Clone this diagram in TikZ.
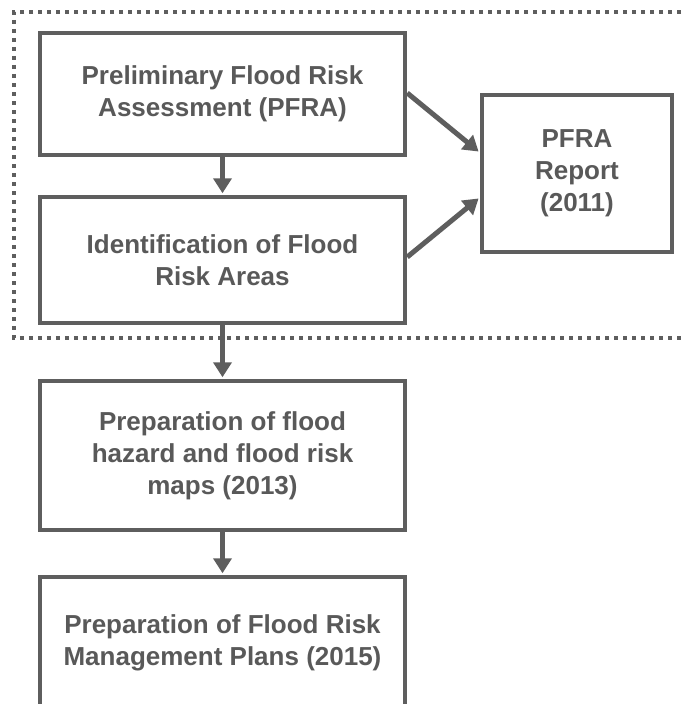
\documentclass[tikz,border=0pt]{standalone}
\usepackage{fontspec}
\setmainfont{Liberation Sans}
\usetikzlibrary{arrows.meta,calc}
\definecolor{linegray}{HTML}{5E5E5E}
\definecolor{textgray}{HTML}{595959}
\begin{document}
\begin{tikzpicture}[x=1pt,y=-1pt,
  box/.style={draw=linegray, line width=4.5pt, fill=white, align=center, text=textgray,
    font=\fontsize{26}{32}\selectfont\bfseries, inner sep=0pt},
  flow/.style={draw=linegray, line width=5pt, -{Triangle[width=18pt,length=15pt]}, shorten >=1.5pt},
  group/.style={draw=linegray, line width=3.5pt, dash pattern=on 4pt off 5pt}]
\useasboundingbox (0,0) rectangle (685,704);
\clip (0,0) rectangle (685,704);
\draw[group] (690,12) -- (14,12) -- (14,338) -- (690,338);
\node[box, minimum width=365pt, minimum height=122pt] (pfra) at (222.5,94) {Preliminary Flood Risk\\Assessment (PFRA)};
\node[box, minimum width=365pt, minimum height=126pt] (ident) at (222.5,260) {Identification of Flood\\Risk Areas};
\node[box, minimum width=190pt, minimum height=157pt] (rep) at (577,173.5) {PFRA\\Report\\(2011)};
\node[box, minimum width=365pt, minimum height=149pt] (maps) at (222.5,455.5) {Preparation of flood\\hazard and flood risk\\maps (2013)};
\node[box, minimum width=365pt, minimum height=132pt] (plans) at (222.5,643) {Preparation of Flood Risk\\Management Plans (2015)};
\draw[flow] (pfra.south) -- (ident.north);
\draw[flow] (ident.south) -- (maps.north);
\draw[flow] (maps.south) -- (plans.north);
\draw[flow] ([yshift=1pt]pfra.east) -- ([yshift=21pt]rep.west);
\draw[flow] ([yshift=3pt]ident.east) -- ([yshift=-24pt]rep.west);
\end{tikzpicture}
\end{document}
